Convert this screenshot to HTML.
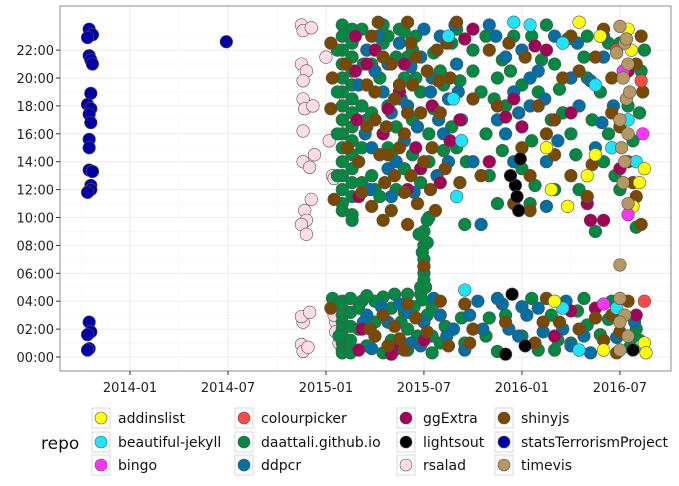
<!DOCTYPE html>
<html><head><meta charset="utf-8"><style>
body{margin:0;background:#fff;font-family:"DejaVu Sans","Liberation Sans",sans-serif}
svg text{font-family:"DejaVu Sans","Liberation Sans",sans-serif}
</style></head><body>
<svg id="chart" width="679" height="482" xmlns="http://www.w3.org/2000/svg">
<rect x="0" y="0" width="679" height="482" fill="#fff"/>
<g id="grid"></g><g id="pts"></g>
<rect x="60" y="6" width="611" height="365" fill="none" stroke="#8c8c8c" stroke-width="1"/>
<g id="axes"></g><g id="legend"></g>
</svg>
<script>
const xTickLabels=["2014-01","2014-07","2015-01","2015-07","2016-01","2016-07"];
const xTickMonths=[0,6,12,18,24,30];
const yTickHours=[0,2,4,6,8,10,12,14,16,18,20,22];
const repos=["addinslist","beautiful-jekyll","bingo","colourpicker","daattali.github.io","ddpcr","ggExtra","lightsout","rsalad","shinyjs","statsTerrorismProject","timevis"];
const colors=["#FFFF00","#1CE6FF","#FF34FF","#FF4A46","#008941","#006FA6","#A30059","#000000","#FFDBE5","#7A4900","#0000A6","#B79762"];
// data: [month since 2014-01, hour]
const statsT=[[-2.5,23.5],[-2.3,23.1],[-2.6,22.9],[-2.5,21.6],[-2.4,21.3],[-2.3,21.0],[-2.4,18.9],[-2.6,18.1],[-2.4,17.8],[-2.5,17.4],[-2.4,16.8],[-2.5,15.6],[-2.5,15.0],[-2.5,13.4],[-2.3,13.3],[-2.4,12.3],[-2.4,12.0],[-2.6,11.8],[-2.5,2.5],[-2.4,1.8],[-2.6,1.6],[-2.5,0.6],[-2.6,0.5],[5.9,22.6]];
const rsalad=[[10.5,23.8],[10.6,23.4],[11.1,23.6],[10.5,21],[10.8,20.5],[10.6,19.8],[10.6,18.5],[10.7,17.8],[11.2,18],[10.6,16.2],[11.3,14.5],[10.6,14],[11.0,13.6],[10.7,10.5],[10.8,9.8],[11.1,11.3],[10.5,9.5],[10.8,8.8],[10.6,2.5],[10.5,2.9],[11,3.2],[10.5,0.9],[10.6,0.4],[10.9,0.7],[12.4,13],[12.5,12.8],[12.6,2.5],[12.5,3.0],[12.6,1.8],[12.8,1.0],[13.2,18.5],[13.3,16.8],[12.2,15.5],[13.5,19.8],[12.0,21.5],[19.8,2]];
const daattali=[[13.0,23.8],[13.0,23],[13.0,22],[13.0,21],[13.0,20],[13.0,19],[13.0,18],[13.0,17],[13.0,16],[13.0,15],[13.0,14],[13.0,13],[13.0,12],[13.0,11],[13.0,10.5],[13.6,23.5],[13.6,22.5],[13.6,21.5],[13.6,20.5],[13.6,19.5],[13.6,18.5],[13.6,17.5],[13.6,16.5],[13.6,15.5],[13.6,14.5],[13.6,13.5],[13.6,12.5],[13.6,11.5],[13.6,10.2],[13.6,9.8],[15.5,23.8],[15.5,22.5],[17.5,23],[17.5,20],[18.3,16],[18.3,14],[18.3,10],[18.0,9],[18.0,8],[18.0,7],[18.0,6.5],[18.0,6],[18.0,5.5],[17.8,5],[17.8,4.5],[13.0,4],[13.0,3.5],[13.0,3],[13.0,2.5],[13.0,2],[13.0,1.5],[13.0,1],[13.0,0.5],[13.0,0.3],[13.5,4.2],[13.5,3.2],[13.5,2.2],[13.5,1.2],[13.5,0.3],[15.5,4.3],[15.5,3],[15.5,0.3],[17.0,4.5],[17.0,2],[17.0,0.5],[18.5,3.5],[18.5,1.5],[18.5,0.3],[14.3,21],[14.5,17],[15,12],[16,14.5],[17,21.5],[16.5,23.5],[19,20.5],[14.2,4],[16.2,4.5],[12.4,4.2],[20,23.5],[21,22],[22.5,20],[23,18],[24,13.5],[25,19],[26,21],[27,16],[28,23],[29,14],[30,12],[31,9.3],[30.5,18],[29.5,4],[27,1],[26,0.5],[24,1.5],[22,2.8],[20.5,1],[31,2],[28.5,9],[25.5,23.8],[23.5,23],[21.5,19],[20,15],[22,13],[26.5,17.5],[24.5,11],[28,20],[30,22.5],[27.5,12]];
const daattali2=[[12.7,22],[12.7,19],[12.7,16],[12.7,13],[14.2,23.5],[14.2,18],[14.2,15],[14.2,12.5],[14.8,21],[14.8,17.5],[14.8,13],[15.3,20],[15.3,11.5],[15.8,23],[15.8,18],[15.8,15],[16.3,21.5],[16.3,16.5],[16.3,12],[16.8,23.3],[16.8,20],[16.8,13.5],[17.3,17],[17.3,14.5],[17.3,22],[17.8,19],[17.8,12.5],[18.6,21.8],[18.6,17.8],[19.2,19.5],[19.2,14.8],[19.7,22.5],[19.7,16.5],[20.2,19.8],[20.6,14],[21,20.5],[21.8,23],[21.8,16],[22.3,18.5],[22.8,21.3],[22.8,14.8],[23.3,20.5],[24,19.5],[24.6,23],[24.6,15.5],[25.2,21.3],[25.8,17],[26.3,19.2],[26.8,22.8],[27.3,14.5],[27.8,21.5],[28.3,17],[28.8,19],[29.3,22.5],[29.3,16],[29.7,13],[30.8,15.5],[31.2,17.5],[31.5,22],[26,12],[24.8,12.3],[22.5,11],[31.3,20.5],[20.5,9.5],[18.2,9.8],[17.7,8.8],[18.2,8.2],[17.9,7.5],[18.1,5],[17.9,4.1],[12.8,3.8],[12.8,1.5],[14,3.5],[14,2],[14.5,0.8],[15,4],[15,2.5],[16,3.5],[16,1.2],[16.6,2.5],[17.4,3.6],[17.6,1.5],[18.2,3],[19,1],[19.3,2.2],[14.5,4.4],[16.8,3.2],[20.3,2.8],[21.8,1.5],[22.5,0.4],[23,3],[24.6,4.2],[25,0.5],[25.8,3],[26.2,1.2],[27.4,3.3],[28,2.3],[28.8,1.6],[29.3,2.7],[30.6,0.7],[31.2,1.2],[27.8,4.2]];
const ddpcr=[[14.5,22],[15,20.5],[15.5,19],[16,17.5],[16.5,22.5],[17,18],[14.8,15],[15.8,13.5],[16.8,15.5],[17.8,21.5],[18.5,20],[19,23],[19.5,18.5],[19.2,16],[18.8,13],[20,21],[20.3,17],[21.5,9.5],[14.5,3],[15,1.5],[15.8,2.5],[16.5,3.8],[17.2,1],[18,2.5],[19,3],[19.8,2],[20.5,0.5],[22.8,3.8],[23.2,2],[23.8,1.5],[24.3,3],[22.5,17],[23,16],[23.5,19],[24,22],[22,23.8],[24.5,18],[25,20.5],[25.5,14],[26,23],[27,20],[27.5,18],[28.5,15],[29,21.5],[26.5,2],[25,3.5],[27,0.8],[21.3,4],[25.5,10.8],[23.5,14],[21,14]];
const ddpcr2=[[14,19.5],[14.4,16],[15.2,23],[15.8,21],[16.3,14],[16.6,18.5],[17.2,20.8],[17.6,16.5],[18,23.5],[18.4,19],[18.9,17],[19.5,14],[19.9,23.8],[20.1,19],[14.7,12],[16,11.5],[17.4,11.8],[14.3,2.5],[14.8,0.6],[15.4,3.6],[16.2,0.5],[17,3.2],[17.8,0.8],[18.6,4.2],[19.4,1.5],[20.8,3],[21.6,2],[22.4,23],[23,21.5],[23.8,17.5],[24.5,20],[25.4,18.5],[26.2,15.5],[27.4,22.5],[28.2,19.8],[28.9,16.8],[29.6,18],[29,23],[27.8,1.5],[28.2,0.3],[26.7,4],[25.3,1.8],[24,3.6],[22.5,4.2],[29.8,1.4],[30.9,2.5]];
const ggExtra=[[13.8,23],[13.8,20.5],[13.9,17],[15,22],[15.5,16],[14,11.5],[16.5,19],[17.5,15],[18.5,18],[19,12.5],[17,12],[20.2,17],[20.5,22.8],[14,0.5],[16,0.2],[18,1.2],[22,14],[23.5,18.5],[24,16.5],[25.5,22],[27,17.5],[28,11],[29,9.8],[30.5,20.5],[26,1.5],[28.5,3.5],[31,3],[21,23.5],[14.5,21],[15.8,17.8],[16.8,21],[17.8,13.5],[19.6,15.5],[14.2,2],[16.5,0.8],[24.8,22.3],[23,17.2],[28.2,9.8],[30,13.5],[27,3.3]];
const shinyjs=[[12.3,22.5],[12.4,20],[12.3,17.8],[12.5,11.3],[12.3,3.5],[14.5,19.5],[15,17],[15.3,14.5],[15.6,12.5],[16,21],[16.5,19.5],[16.8,16],[17.2,13],[17.6,11],[17.8,17.5],[18.2,20.5],[18.5,15],[18.8,22],[19,17.5],[19.3,13.5],[19.6,20],[15.2,24],[17,24],[20,24],[16,10.5],[15.5,9.8],[18,6.5],[15,1.5],[15.8,0.8],[16.2,2.2],[17.5,2.8],[16.8,0.5],[19.5,0.8],[14.2,11.8],[20.2,12.5],[21,18.5],[21.5,13],[22,22],[23.5,11],[24.2,21.5],[24.5,13],[25,18],[24.8,1],[25.3,2.5],[26,17],[27,13],[27.5,20.5],[28,11.5],[28.5,2.8],[29,23.5],[29.5,20],[30,16.5],[30.5,14],[31,21],[31.3,23],[30.8,12.5],[29.8,0.3],[30,1.8],[30.5,4],[31,11.5],[31.4,19],[31.3,9.5],[21,2],[23,2.5],[20.5,3.8],[14,14],[17,9.5],[16.2,18.5],[15.5,21.5],[17.3,19.5],[18.7,10.5],[14.8,10.8]];
const shinyjs2=[[13.2,21],[13.3,15],[14.8,23],[15,19],[15.7,16.5],[16.2,13],[16.5,15],[17,17.5],[17.5,21.5],[18,14],[18.4,12],[18.9,19.8],[19.4,22.5],[14.5,16.5],[15.8,14.5],[16.8,11.8],[17.2,22.5],[15.5,3],[16.5,1.3],[17,3.8],[18.2,1.8],[19,4],[14.7,2],[20.8,1],[22.5,18],[23.2,22.5],[24,15],[25.5,16],[26.5,20],[27,23],[28.5,21.5],[29.5,17.5],[26,14.5],[28.3,13.8],[24.5,10.5],[26.3,2.5],[27.5,2],[29,1.2],[29.5,3],[25.5,4.2]];
const jekyll=[[19.5,23],[19.8,18.5],[20,11.5],[20.5,4.8],[20.3,15.5],[23.5,24],[24.5,23.8],[26.5,22.5],[27.5,0.5],[26.5,3.5],[29.5,15],[29.8,3.5],[30.5,17],[31,14],[31.3,0.8],[28.5,19.5]];
const addins=[[27.5,24],[28.8,23],[28,13],[25.5,15],[25.8,12],[28.5,14.5],[30.7,22],[31.2,12.5],[30.8,10.8],[31.5,1],[31.6,0.3],[29,0.5],[26.8,10.8],[26,4],[30.5,23.5],[31.5,13.5]];
const bingo=[[30.2,20.5],[30.5,10.2],[29,3.8],[31.4,16]];
const colourpicker=[[31.3,19.8],[31.5,4],[29.8,22]];
const lightsout=[[23.6,12.3],[23.3,13],[23.8,10.5],[23,0.2],[23.4,4.5],[30.8,0.5],[24.2,0.8],[23.9,14.2],[23.7,11.5]];
const timevis=[[30,23.7],[30.3,22.5],[30.5,21],[30.2,20],[30.4,18.5],[30,17],[30.5,16],[30.3,14],[30.2,12.5],[30.5,11],[30,6.6],[30,4.2],[30.3,3],[30,2.5],[30.5,1.5],[30,0.5],[29.8,21.8],[30.6,19],[30.1,15],[30.4,22.8]];

const NS="http://www.w3.org/2000/svg";
const xs=m=>130+m*16.33;
const ys=h=>357-h*13.95;
function mk(tag,attrs,parent){const e=document.createElementNS(NS,tag);for(const k in attrs)e.setAttribute(k,attrs[k]);parent.appendChild(e);return e;}
const grid=document.getElementById('grid'),axes=document.getElementById('axes'),pts=document.getElementById('pts'),leg=document.getElementById('legend');
for(let i=-1;i<xTickMonths.length;i++){const xm=xs((i<0?-6:xTickMonths[i])+3);if(xm<671&&xm>60){const l=mk('line',{x1:xm,x2:xm,y1:6,y2:371,stroke:'#f5f5f5','stroke-width':0.6},grid);}}
for(let h=1;h<=23;h+=2){const y=ys(h);const l=mk('line',{x1:60,x2:671,y1:y,y2:y,stroke:'#f5f5f5','stroke-width':0.6},grid);}
xTickMonths.forEach((m,i)=>{const x=xs(m);
 const g=mk('line',{x1:x,x2:x,y1:6,y2:371,stroke:'#ebebeb','stroke-width':1},grid);
 const t=mk('line',{x1:x,x2:x,y1:371,y2:375,stroke:'#333','stroke-width':1},axes);
 const tx=mk('text',{x:x,y:392,'text-anchor':'middle','font-size':13,fill:'#222'},axes);tx.textContent=xTickLabels[i];});
yTickHours.forEach(h=>{const y=ys(h);
 const g=mk('line',{x1:60,x2:671,y1:y,y2:y,stroke:'#ebebeb','stroke-width':1},grid);
 const t=mk('line',{x1:56,x2:60,y1:y,y2:y,stroke:'#333','stroke-width':1},axes);
 const tx=mk('text',{x:54,y:y+5,'text-anchor':'end','font-size':13,fill:'#222'},axes);tx.textContent=(h<10?'0':'')+h+':00';});
const series=[[rsalad,8],[statsT,10],[daattali,4],[daattali2,4],[ddpcr,5],[ddpcr2,5],[ggExtra,6],[shinyjs,9],[shinyjs2,9],[jekyll,1],[lightsout,7],[addins,0],[bingo,2],[colourpicker,3],[timevis,11]];
series.forEach(([arr,ci])=>{arr.forEach(p=>{const c=mk('circle',{cx:xs(p[0]),cy:ys(p[1]),r:6.3,fill:colors[ci],stroke:'#555','stroke-width':0.6},pts);
 
 });});
const lt=mk('text',{x:41,y:449,'font-size':17,fill:'#111'},leg);lt.textContent='repo';
const colX=[92,235,397,495],rowY=[408,432,455];
repos.forEach((r,i)=>{const col=Math.floor(i/3),row=i%3;const x=colX[col],y=rowY[row];
 const b=mk('rect',{x:x,y:y,width:18,height:20,fill:'#fff',stroke:'#d9d9d9','stroke-width':1},leg);
 const c=mk('circle',{cx:x+9,cy:y+10,r:6,fill:colors[i],stroke:'#555','stroke-width':0.6},leg);
 const t=mk('text',{x:x+26,y:y+15,'font-size':14,fill:'#111'},leg);t.textContent=r;});
</script>
</body></html>
